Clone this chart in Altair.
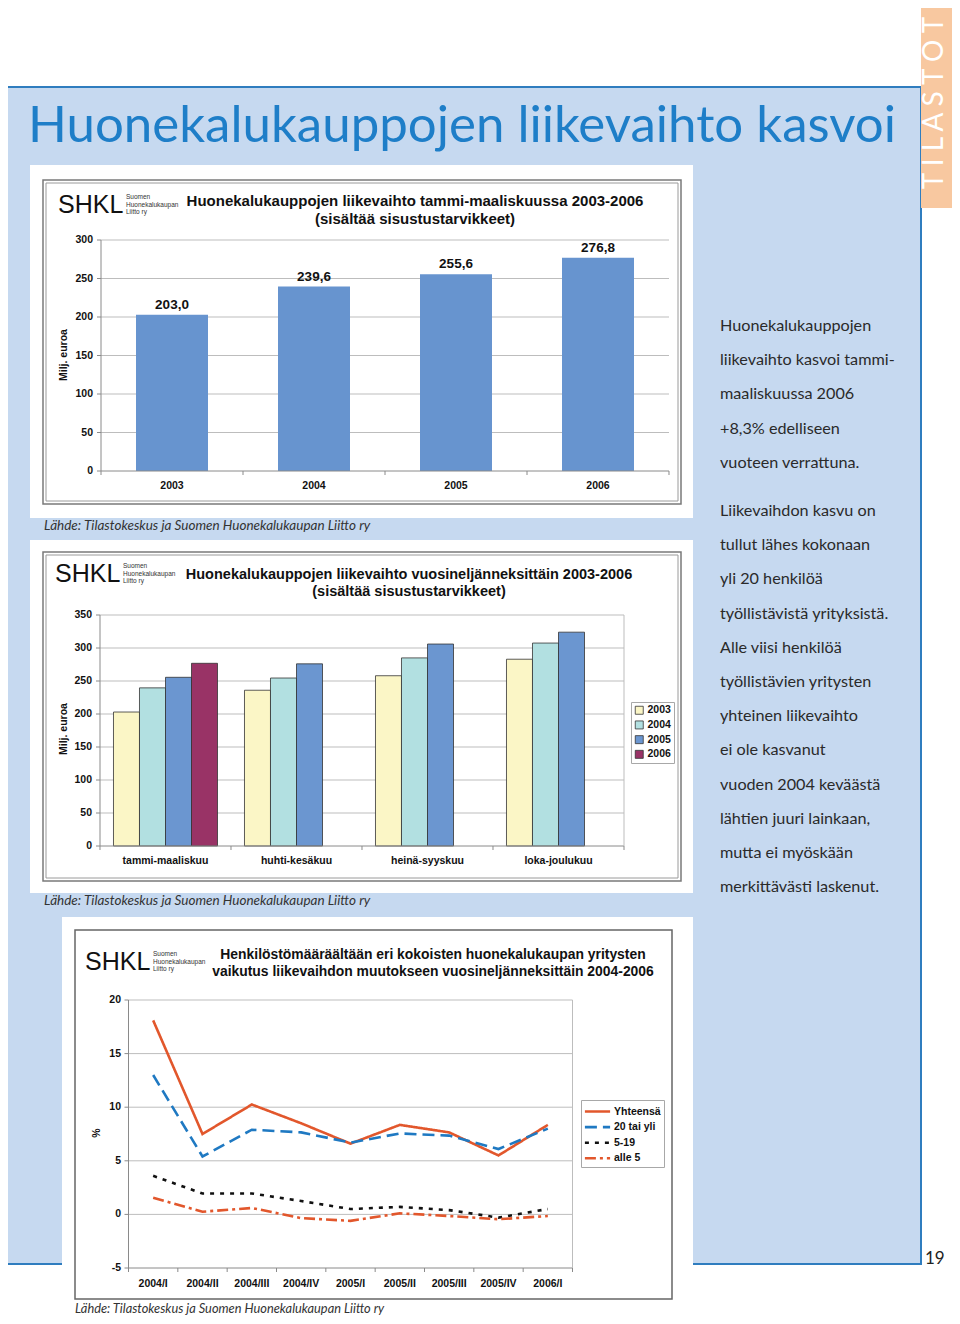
import altair as alt
import pandas as pd

# ------------------------------------------------------------------ data
years = ["2003", "2004", "2005", "2006"]
q1_sales = [203.0, 239.6, 255.6, 276.8]

quarters = ["tammi-maaliskuu", "huhti-kesäkuu", "heinä-syyskuu", "loka-joulukuu"]
sales_2003 = [203.0, 236.0, 258.0, 283.0]
sales_2004 = [239.6, 254.5, 285.0, 307.5]
sales_2005 = [255.6, 276.0, 306.0, 324.0]
sales_2006 = [276.8]
year_colors = ["#fbf6c6", "#b2e0e1", "#6b96d0", "#993366"]

periods = ["2004/I", "2004/II", "2004/III", "2004/IV", "2005/I",
           "2005/II", "2005/III", "2005/IV", "2006/I"]
series_names = ["Yhteensä", "20 tai yli", "5-19", "alle 5"]
s_total = [18.1, 7.5, 10.25, 8.5, 6.6, 8.35, 7.65, 5.5, 8.35]
s_20plus = [13.0, 5.4, 7.9, 7.65, 6.7, 7.55, 7.35, 6.1, 8.0]
s_5_19 = [3.6, 1.95, 1.95, 1.25, 0.5, 0.7, 0.4, -0.3, 0.5]
s_under5 = [1.55, 0.25, 0.6, -0.35, -0.6, 0.1, -0.15, -0.45, -0.15]
series_colors = ["#e2572c", "#1f79c2", "#111111", "#e2572c"]
series_dashes = [[1, 0], [12, 6], [4, 6], [11, 4, 3, 4]]

ticks1 = [0, 50, 100, 150, 200, 250, 300]
ticks2 = [0, 50, 100, 150, 200, 250, 300, 350]
ticks3 = [-5, 0, 5, 10, 15, 20]

page_title = "Huonekalukauppojen liikevaihto kasvoi"
chart1_title = ["Huonekalukauppojen liikevaihto tammi-maaliskuussa 2003-2006",
                "(sisältää sisustustarvikkeet)"]
chart2_title = ["Huonekalukauppojen liikevaihto vuosineljänneksittäin 2003-2006",
                "(sisältää sisustustarvikkeet)"]
chart3_title = ["Henkilöstömääräältään eri kokoisten huonekalukaupan yritysten",
                "vaikutus liikevaihdon muutokseen vuosineljänneksittäin 2004-2006"]
logo_word = "SHKL"
logo_lines = ["Suomen", "Huonekalukaupan", "Liitto ry"]
source_text = "Lähde: Tilastokeskus ja Suomen Huonekalukaupan Liitto ry"
y_title_money = "Milj. euroa"
y_title_pct = "%"
body_par1 = ["Huonekalukauppojen", "liikevaihto kasvoi tammi-", "maaliskuussa 2006",
             "+8,3% edelliseen", "vuoteen verrattuna."]
body_par2 = ["Liikevaihdon kasvu on", "tullut lähes kokonaan", "yli 20 henkilöä",
             "työllistävistä yrityksistä.", "Alle viisi henkilöä",
             "työllistävien yritysten", "yhteinen liikevaihto", "ei ole kasvanut",
             "vuoden 2004 keväästä", "lähtien juuri lainkaan,", "mutta ei myöskään",
             "merkittävästi laskenut."]
tab_text = "T I L A S T O T"
page_number = "19"

# ------------------------------------------------------------------ helpers
OFF = 8  # page margin: page coordinate -> chart coordinate


def P(v):
    return v - OFF


ONE = alt.Data(values=[{}])
ARIAL = "Liberation Sans"
BODY = "Lato"


def box(x1, y1, x2, y2, fill=None, stroke=None, sw=1.0):
    kw = {}
    if fill is not None:
        kw["fill"] = fill
    else:
        kw["fillOpacity"] = 0
    if stroke is not None:
        kw["stroke"] = stroke
        kw["strokeWidth"] = sw
    return alt.Chart(ONE).mark_rect(**kw).encode(
        x=alt.value(P(x1)), x2=alt.value(P(x2)),
        y=alt.value(P(y1)), y2=alt.value(P(y2)))


def line(x1, y1, x2, y2, color="#888", sw=1.0):
    return alt.Chart(ONE).mark_rule(color=color, strokeWidth=sw).encode(
        x=alt.value(P(x1)), x2=alt.value(P(x2)),
        y=alt.value(P(y1)), y2=alt.value(P(y2)))


def text(s, x, y, size, font=BODY, color="#000", weight="normal",
         style=None, align="left", angle=None, baseline="middle"):
    kw = dict(text=s, fontSize=size, font=font, color=color,
              fontWeight=weight, align=align, baseline=baseline)
    if style:
        kw["fontStyle"] = style
    if angle is not None:
        kw["angle"] = angle
    return alt.Chart(ONE).mark_text(**kw).encode(
        x=alt.value(P(x)), y=alt.value(P(y)))


def logo(x, y):
    parts = [text(logo_word, x, y, 25, font=ARIAL, color="#111")]
    for i, s in enumerate(logo_lines):
        parts.append(text(s, x + 68, y - 8 + 7.7 * i, 6.5, font=ARIAL, color="#333"))
    return parts


GRID = "#bdbdbd"
AXIS = "#8a8a8a"
LBL = dict(font=ARIAL, fontWeight="bold", fontSize=10.5, color="#111")

layers = []

# ------------------------------------------------------------------ page decoration
layers.append(box(5, 87, 921, 1264, fill="#c6d9f0", stroke="#2f7dbf", sw=2))
layers.append(box(921, -2, 962, 208, fill="#f8c8a0"))
layers.append(text(tab_text, 935, 103, 28, color="#ffffff", angle=270, align="center"))
layers.append(text(page_title, 28, 127, 51, color="#1e7ec8"))

# white boxes and frames
layers.append(box(30, 165, 693, 518, fill="#ffffff"))
layers.append(box(43, 180, 681, 504, stroke="#7a7a7a", sw=1.5))
layers.append(box(46, 183, 678, 501, stroke="#9a9a9a", sw=1))
layers.append(box(30, 540, 693, 893, fill="#ffffff"))
layers.append(box(43, 552, 681, 881, stroke="#7a7a7a", sw=1.5))
layers.append(box(46, 555, 678, 878, stroke="#9a9a9a", sw=1))
layers.append(box(62, 917, 693, 1302, fill="#ffffff"))
layers.append(box(75, 930, 672, 1299, stroke="#666666", sw=1.5))

# ------------------------------------------------------------------ chart 1
c1x = alt.Scale(domain=years, range=[P(101), P(669)], paddingInner=0.493, paddingOuter=0.2465)
c1y = alt.Scale(domain=[0, 300], range=[P(471), P(240)], nice=False, zero=False)
df1 = pd.DataFrame({"year": years, "value": q1_sales,
                    "label": [f"{v:.1f}".replace(".", ",") for v in q1_sales]})
t1 = pd.DataFrame({"t": ticks1, "lab": [str(t) for t in ticks1]})
X1 = alt.X("year:N", scale=c1x, axis=None)
Y1 = alt.Y("t:Q", scale=c1y, axis=None)

chart1 = alt.layer(
    alt.Chart(t1[t1.t > 0]).mark_rule(color=GRID, strokeWidth=1).encode(
        y=Y1, x=alt.value(P(101)), x2=alt.value(P(669))),
    alt.Chart(df1).mark_bar(color="#6794cf").encode(
        x=X1, y=alt.Y("value:Q", scale=c1y, axis=None)),
    alt.Chart(df1).mark_text(font=ARIAL, fontWeight="bold", fontSize=13.5, color="#111",
                             baseline="bottom", dy=-3).encode(
        x=X1, y=alt.Y("value:Q", scale=c1y, axis=None), text="label:N"),
    alt.Chart(t1).mark_text(align="right", baseline="middle", **LBL).encode(
        y=Y1, x=alt.value(P(93)), text="lab:N"),
    alt.Chart(t1).mark_rule(color=AXIS).encode(
        y=Y1, x=alt.value(P(97)), x2=alt.value(P(101))),
    alt.Chart(df1).mark_text(baseline="middle", **LBL).encode(
        x=X1, y=alt.value(P(486)), text="year:N"),
    alt.Chart(df1).mark_rule(color=AXIS, xOffset=-35).encode(
        x=alt.X("year:N", scale=c1x, axis=None, bandPosition=0),
        y=alt.value(P(471)), y2=alt.value(P(475))),
    alt.Chart(df1.tail(1)).mark_rule(color=AXIS, xOffset=35).encode(
        x=alt.X("year:N", scale=c1x, axis=None, bandPosition=1),
        y=alt.value(P(471)), y2=alt.value(P(475))),
)
layers.append(chart1)
layers.append(line(101, 240, 101, 471, AXIS))
layers.append(line(101, 471, 669, 471, AXIS))
layers += logo(58, 205)
layers.append(text(chart1_title[0], 415, 201, 15, font=ARIAL, weight="bold", align="center", color="#111"))
layers.append(text(chart1_title[1], 415, 219, 15, font=ARIAL, weight="bold", align="center", color="#111"))
layers.append(text(y_title_money, 64, 355, 10.5, font=ARIAL, weight="bold", align="center", angle=270, color="#111"))

# ------------------------------------------------------------------ chart 2
rows2 = []
for yr, vals in zip(years, [sales_2003, sales_2004, sales_2005, sales_2006]):
    for q, v in zip(quarters, vals):
        rows2.append({"quarter": q, "year": yr, "value": v})
df2 = pd.DataFrame(rows2)
dfq = pd.DataFrame({"quarter": quarters})
c2x = alt.Scale(domain=quarters, range=[P(100), P(624)], paddingInner=0.206, paddingOuter=0.103)
c2y = alt.Scale(domain=[0, 350], range=[P(846), P(615)], nice=False, zero=False)
t2 = pd.DataFrame({"t": ticks2, "lab": [str(t) for t in ticks2]})
X2 = alt.X("quarter:N", scale=c2x, axis=None)
Y2 = alt.Y("t:Q", scale=c2y, axis=None)

legend2 = alt.Legend(orient="none", legendX=P(631), legendY=P(702), title=None,
                     direction="vertical", fillColor="#ffffff", strokeColor="#a8a8a8",
                     padding=3, symbolType="square", symbolSize=64,
                     symbolStrokeColor="#333333", symbolStrokeWidth=0.8,
                     labelFont=ARIAL, labelFontWeight="bold", labelFontSize=10.5,
                     labelColor="#111", labelOffset=3, rowPadding=2.7)

chart2 = alt.layer(
    alt.Chart(t2[t2.t > 0]).mark_rule(color=GRID, strokeWidth=1).encode(
        y=Y2, x=alt.value(P(100)), x2=alt.value(P(624))),
    alt.Chart(df2).mark_bar(stroke="#333333", strokeWidth=0.8).encode(
        x=X2,
        xOffset=alt.XOffset("year:N", scale=alt.Scale(domain=years, paddingInner=0, paddingOuter=0)),
        y=alt.Y("value:Q", scale=c2y, axis=None),
        color=alt.Color("year:N", scale=alt.Scale(domain=years, range=year_colors), legend=legend2)),
    alt.Chart(t2).mark_text(align="right", baseline="middle", **LBL).encode(
        y=Y2, x=alt.value(P(92)), text="lab:N"),
    alt.Chart(t2).mark_rule(color=AXIS).encode(
        y=Y2, x=alt.value(P(96)), x2=alt.value(P(100))),
    alt.Chart(dfq).mark_text(baseline="middle", **LBL).encode(
        x=X2, y=alt.value(P(861)), text="quarter:N"),
    alt.Chart(dfq).mark_rule(color=AXIS, xOffset=-13.5).encode(
        x=alt.X("quarter:N", scale=c2x, axis=None, bandPosition=0),
        y=alt.value(P(846)), y2=alt.value(P(850))),
    alt.Chart(dfq.tail(1)).mark_rule(color=AXIS, xOffset=13.5).encode(
        x=alt.X("quarter:N", scale=c2x, axis=None, bandPosition=1),
        y=alt.value(P(846)), y2=alt.value(P(850))),
)
layers.append(chart2)
layers.append(line(100, 615, 100, 846, AXIS))
layers.append(line(100, 846, 624, 846, AXIS))
layers.append(line(624, 615, 624, 846, GRID))
layers += logo(55, 574)
layers.append(text(chart2_title[0], 409, 575, 14.5, font=ARIAL, weight="bold", align="center", color="#111"))
layers.append(text(chart2_title[1], 409, 592, 14.5, font=ARIAL, weight="bold", align="center", color="#111"))
layers.append(text(y_title_money, 64, 729, 10.5, font=ARIAL, weight="bold", align="center", angle=270, color="#111"))

# ------------------------------------------------------------------ chart 3
rows3 = []
for name, vals in zip(series_names, [s_total, s_20plus, s_5_19, s_under5]):
    for p, v in zip(periods, vals):
        rows3.append({"period": p, "series": name, "value": v})
df3 = pd.DataFrame(rows3)
dfp = pd.DataFrame({"period": periods})
step3 = (572.5 - 128.5) / len(periods)
c3x = alt.Scale(type="point", domain=periods,
                range=[P(128.5 + step3 / 2), P(572.5 - step3 / 2)], padding=0)
c3y = alt.Scale(domain=[-5, 20], range=[P(1268), P(1000)], nice=False, zero=False)
t3 = pd.DataFrame({"t": ticks3, "lab": [str(t) for t in ticks3]})
X3 = alt.X("period:N", scale=c3x, axis=None)
Y3 = alt.Y("t:Q", scale=c3y, axis=None)

legend3 = alt.Legend(orient="none", legendX=P(581), legendY=P(1100), title=None,
                     direction="vertical", fillColor="#ffffff", strokeColor="#a8a8a8",
                     padding=3, symbolType="M-1.8,0H1.8", symbolSize=196,
                     symbolStrokeWidth=2.6, symbolOffset=5,
                     labelFont=ARIAL, labelFontWeight="bold", labelFontSize=10.5,
                     labelColor="#111", labelOffset=8, rowPadding=1.6)

chart3 = alt.layer(
    alt.Chart(t3[t3.t > -5]).mark_rule(color=GRID, strokeWidth=1).encode(
        y=Y3, x=alt.value(P(128.5)), x2=alt.value(P(572.5))),
    alt.Chart(df3).mark_line(strokeWidth=2.6).encode(
        x=X3,
        y=alt.Y("value:Q", scale=c3y, axis=None),
        color=alt.Color("series:N", scale=alt.Scale(domain=series_names, range=series_colors),
                        legend=legend3),
        strokeDash=alt.StrokeDash("series:N",
                                  scale=alt.Scale(domain=series_names, range=series_dashes),
                                  legend=legend3)),
    alt.Chart(t3).mark_text(align="right", baseline="middle", **LBL).encode(
        y=Y3, x=alt.value(P(121)), text="lab:N"),
    alt.Chart(t3).mark_rule(color=AXIS).encode(
        y=Y3, x=alt.value(P(124.5)), x2=alt.value(P(128.5))),
    alt.Chart(dfp).mark_text(baseline="middle", **LBL).encode(
        x=X3, y=alt.value(P(1284)), text="period:N"),
    alt.Chart(dfp).mark_rule(color=AXIS, xOffset=-step3 / 2).encode(
        x=X3, y=alt.value(P(1268)), y2=alt.value(P(1272))),
    alt.Chart(dfp.tail(1)).mark_rule(color=AXIS, xOffset=step3 / 2).encode(
        x=X3, y=alt.value(P(1268)), y2=alt.value(P(1272))),
)
layers.append(chart3)
layers.append(line(128.5, 1000, 128.5, 1268, AXIS))
layers.append(line(128.5, 1268, 572.5, 1268, AXIS))
layers.append(line(572.5, 1000, 572.5, 1268, GRID))
layers += logo(85, 962)
layers.append(text(chart3_title[0], 433, 955, 13.9, font=ARIAL, weight="bold", align="center", color="#111"))
layers.append(text(chart3_title[1], 433, 972, 13.9, font=ARIAL, weight="bold", align="center", color="#111"))
layers.append(text(y_title_pct, 97, 1133, 10.5, font=ARIAL, weight="bold", align="center", angle=270, color="#111"))

# ------------------------------------------------------------------ source lines
layers.append(text(source_text, 44, 526, 13.5, color="#333", style="italic"))
layers.append(text(source_text, 44, 901, 13.5, color="#333", style="italic"))
layers.append(text(source_text, 75, 1309, 12.8, color="#333", style="italic"))

# ------------------------------------------------------------------ body text
for i, s in enumerate(body_par1):
    layers.append(text(s, 720, 326 + 34.2 * i, 16.2, color="#2a2a2a"))
for i, s in enumerate(body_par2):
    layers.append(text(s, 720, 511 + 34.2 * i, 16.2, color="#2a2a2a"))

layers.append(text(page_number, 925, 1259, 17, color="#222"))

chart = alt.layer(*layers).resolve_scale(
    x="independent", y="independent", color="independent", strokeDash="independent"
).properties(
    width=944, height=1308, padding=0,
    autosize=alt.AutoSizeParams(type="none"),
    background="#ffffff",
).configure_view(strokeWidth=0)

chart.save("out.html", embed_options={"renderer": "svg", "actions": False})
